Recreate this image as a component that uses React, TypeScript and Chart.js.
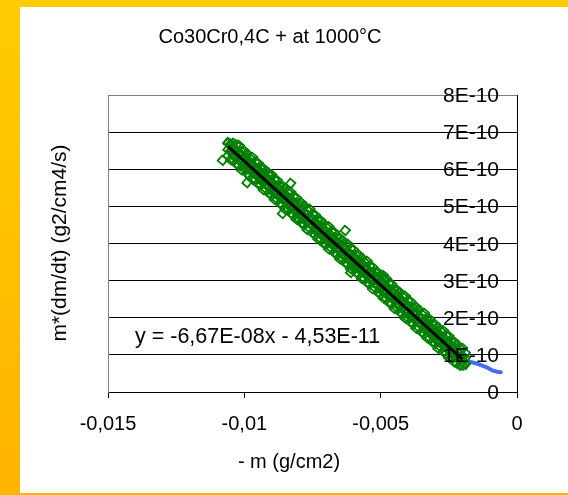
import React, { useEffect, useRef } from "react";
import { Chart, registerables } from "chart.js";

Chart.register(...registerables);

const chartTitle = "Co30Cr0,4C + at 1000°C";
const xAxisTitle = "- m (g/cm2)";
const yAxisTitle = "m*(dm/dt) (g2/cm4/s)";
const trendLabel = "y = -6,67E-08x - 4,53E-11";

const xTickValues = [-0.015, -0.01, -0.005, 0];
const xTickLabels = ["-0,015", "-0,01", "-0,005", "0"];
const yTickValues = [0, 1e-10, 2e-10, 3e-10, 4e-10, 5e-10, 6e-10, 7e-10, 8e-10];
const yTickLabels = ["0", "1E-10", "2E-10", "3E-10", "4E-10", "5E-10", "6E-10", "7E-10", "8E-10"];

// measured points (green markers): x positions, four readings per x
const greenX = [
  -0.0106, -0.0105, -0.0104, -0.0103, -0.0102, -0.0101, -0.0100, -0.0099, -0.0098, -0.0097,
  -0.0096, -0.0095, -0.0094, -0.0093, -0.0092, -0.0091, -0.0090, -0.0089, -0.0088, -0.0087,
  -0.0086, -0.0085, -0.0084, -0.0083, -0.0082, -0.0081, -0.0080, -0.0079, -0.0078, -0.0077,
  -0.0076, -0.0075, -0.0074, -0.0073, -0.0072, -0.0071, -0.0070, -0.0069, -0.0068, -0.0067,
  -0.0066, -0.0065, -0.0064, -0.0063, -0.0062, -0.0061, -0.0060, -0.0059, -0.0058, -0.0057,
  -0.0056, -0.0055, -0.0054, -0.0053, -0.0052, -0.0051, -0.0050, -0.0049, -0.0048, -0.0047,
  -0.0046, -0.0045, -0.0044, -0.0043, -0.0042, -0.0041, -0.0040, -0.0039, -0.0038, -0.0037,
  -0.0036, -0.0035, -0.0034, -0.0033, -0.0032, -0.0031, -0.0030, -0.0029, -0.0028, -0.0027,
  -0.0026, -0.0025, -0.0024, -0.0023, -0.0022, -0.0021, -0.0020, -0.0019,
];
const greenY1 = [
  6.72e-10, 6.68e-10, 6.70e-10, 6.66e-10, 6.63e-10, 6.48e-10, 6.49e-10, 6.41e-10, 6.30e-10, 6.32e-10,
  6.19e-10, 6.16e-10, 6.02e-10, 6.02e-10, 5.94e-10, 5.84e-10, 5.85e-10, 5.72e-10, 5.70e-10, 5.55e-10,
  5.55e-10, 5.48e-10, 5.37e-10, 5.38e-10, 5.26e-10, 5.23e-10, 5.08e-10, 5.09e-10, 5.01e-10, 4.90e-10,
  4.92e-10, 4.79e-10, 4.76e-10, 4.62e-10, 4.62e-10, 4.54e-10, 4.44e-10, 4.45e-10, 4.32e-10, 4.30e-10,
  4.15e-10, 4.15e-10, 4.08e-10, 3.97e-10, 3.98e-10, 3.86e-10, 3.83e-10, 3.68e-10, 3.69e-10, 3.61e-10,
  3.50e-10, 3.52e-10, 3.39e-10, 3.36e-10, 3.22e-10, 3.22e-10, 3.14e-10, 3.04e-10, 3.05e-10, 2.92e-10,
  2.90e-10, 2.75e-10, 2.75e-10, 2.68e-10, 2.57e-10, 2.58e-10, 2.46e-10, 2.43e-10, 2.28e-10, 2.29e-10,
  2.21e-10, 2.10e-10, 2.12e-10, 1.99e-10, 1.96e-10, 1.82e-10, 1.82e-10, 1.74e-10, 1.64e-10, 1.65e-10,
  1.52e-10, 1.50e-10, 1.35e-10, 1.35e-10, 1.27e-10, 1.17e-10, 1.18e-10, 1.05e-10,
];
const greenY2 = [
  6.70e-10, 6.67e-10, 6.53e-10, 6.52e-10, 6.42e-10, 6.39e-10, 6.30e-10, 6.27e-10, 6.13e-10, 6.12e-10,
  6.02e-10, 5.99e-10, 5.90e-10, 5.87e-10, 5.73e-10, 5.72e-10, 5.62e-10, 5.59e-10, 5.50e-10, 5.47e-10,
  5.33e-10, 5.32e-10, 5.22e-10, 5.19e-10, 5.10e-10, 5.07e-10, 4.93e-10, 4.92e-10, 4.82e-10, 4.79e-10,
  4.70e-10, 4.67e-10, 4.53e-10, 4.52e-10, 4.42e-10, 4.39e-10, 4.30e-10, 4.27e-10, 4.13e-10, 4.12e-10,
  4.02e-10, 3.99e-10, 3.90e-10, 3.87e-10, 3.73e-10, 3.72e-10, 3.62e-10, 3.59e-10, 3.50e-10, 3.47e-10,
  3.33e-10, 3.32e-10, 3.22e-10, 3.19e-10, 3.10e-10, 3.07e-10, 2.93e-10, 2.92e-10, 2.82e-10, 2.79e-10,
  2.70e-10, 2.67e-10, 2.53e-10, 2.52e-10, 2.42e-10, 2.39e-10, 2.30e-10, 2.27e-10, 2.13e-10, 2.12e-10,
  2.02e-10, 1.99e-10, 1.90e-10, 1.87e-10, 1.73e-10, 1.72e-10, 1.62e-10, 1.59e-10, 1.50e-10, 1.47e-10,
  1.33e-10, 1.32e-10, 1.22e-10, 1.19e-10, 1.09e-10, 1.07e-10, 0.93e-10, 0.91e-10,
];
const greenY3 = [
  6.53e-10, 6.49e-10, 6.36e-10, 6.35e-10, 6.25e-10, 6.19e-10, 6.16e-10, 6.03e-10, 6.01e-10, 5.92e-10,
  5.86e-10, 5.82e-10, 5.70e-10, 5.68e-10, 5.58e-10, 5.53e-10, 5.49e-10, 5.36e-10, 5.35e-10, 5.25e-10,
  5.19e-10, 5.16e-10, 5.03e-10, 5.01e-10, 4.92e-10, 4.86e-10, 4.82e-10, 4.70e-10, 4.68e-10, 4.58e-10,
  4.53e-10, 4.49e-10, 4.36e-10, 4.35e-10, 4.25e-10, 4.19e-10, 4.16e-10, 4.03e-10, 4.01e-10, 3.92e-10,
  3.86e-10, 3.82e-10, 3.70e-10, 3.68e-10, 3.58e-10, 3.53e-10, 3.49e-10, 3.36e-10, 3.35e-10, 3.25e-10,
  3.19e-10, 3.16e-10, 3.03e-10, 3.01e-10, 2.92e-10, 2.86e-10, 2.82e-10, 2.70e-10, 2.68e-10, 2.58e-10,
  2.53e-10, 2.49e-10, 2.36e-10, 2.35e-10, 2.25e-10, 2.19e-10, 2.16e-10, 2.03e-10, 2.01e-10, 1.92e-10,
  1.86e-10, 1.82e-10, 1.70e-10, 1.68e-10, 1.58e-10, 1.53e-10, 1.49e-10, 1.36e-10, 1.35e-10, 1.25e-10,
  1.19e-10, 1.16e-10, 1.03e-10, 1.01e-10, 0.91e-10, 0.86e-10, 0.82e-10, 0.76e-10,
];
const greenY4 = [
  6.37e-10, 6.26e-10, 6.26e-10, 6.15e-10, 6.11e-10, 5.98e-10, 6.01e-10, 5.89e-10, 5.83e-10, 5.73e-10,
  5.73e-10, 5.61e-10, 5.58e-10, 5.45e-10, 5.47e-10, 5.36e-10, 5.30e-10, 5.19e-10, 5.20e-10, 5.08e-10,
  5.04e-10, 4.92e-10, 4.94e-10, 4.82e-10, 4.77e-10, 4.66e-10, 4.66e-10, 4.55e-10, 4.51e-10, 4.38e-10,
  4.41e-10, 4.29e-10, 4.23e-10, 4.13e-10, 4.13e-10, 4.01e-10, 3.98e-10, 3.85e-10, 3.87e-10, 3.76e-10,
  3.70e-10, 3.59e-10, 3.60e-10, 3.48e-10, 3.44e-10, 3.32e-10, 3.34e-10, 3.22e-10, 3.17e-10, 3.06e-10,
  3.06e-10, 2.95e-10, 2.91e-10, 2.78e-10, 2.81e-10, 2.69e-10, 2.63e-10, 2.53e-10, 2.53e-10, 2.41e-10,
  2.38e-10, 2.25e-10, 2.27e-10, 2.16e-10, 2.10e-10, 1.99e-10, 2.00e-10, 1.88e-10, 1.84e-10, 1.72e-10,
  1.74e-10, 1.62e-10, 1.57e-10, 1.46e-10, 1.46e-10, 1.35e-10, 1.31e-10, 1.18e-10, 1.21e-10, 1.09e-10,
  1.03e-10, 0.93e-10, 0.93e-10, 0.81e-10, 0.77e-10, 0.72e-10, 0.72e-10, 0.74e-10,
];
// isolated readings off the main band
const greenOutX = [-0.0108, -0.0102, -0.0099, -0.0091, -0.0086, -0.0083, -0.0080, -0.0063, -0.0061, -0.0049];
const greenOutY = [6.24e-10, 6.64e-10, 5.64e-10, 5.89e-10, 4.81e-10, 5.62e-10, 4.67e-10, 4.35e-10, 3.22e-10, 3.14e-10];

// raw curve (blue dots)
const blueX = [
  -0.0105, -0.0102, -0.0099, -0.0096, -0.0091, -0.0088, -0.0084, -0.0080, -0.0076, -0.0072,
  -0.0068, -0.0064, -0.0060, -0.0055, -0.0050, -0.0045, -0.0040, -0.0035, -0.0030, -0.0025,
  -0.0021,
  -0.00190, -0.00185, -0.00180, -0.00175, -0.00170, -0.00165, -0.00160, -0.00155, -0.00150, -0.00145,
  -0.00140, -0.00135, -0.00130, -0.00125, -0.00120, -0.00115, -0.00110, -0.00105, -0.00100, -0.00095,
  -0.00090, -0.00085, -0.00080, -0.00075, -0.00070, -0.00065, -0.00060,
];
const blueY = [
  6.58e-10, 6.32e-10, 6.10e-10, 5.92e-10, 5.60e-10, 5.35e-10, 5.28e-10, 4.95e-10, 4.62e-10, 4.30e-10,
  4.02e-10, 3.72e-10, 3.55e-10, 3.20e-10, 2.88e-10, 2.52e-10, 2.22e-10, 1.85e-10, 1.55e-10, 1.20e-10,
  0.95e-10,
  0.86e-10, 0.84e-10, 0.83e-10, 0.82e-10, 0.81e-10, 0.80e-10, 0.79e-10, 0.78e-10, 0.77e-10, 0.76e-10,
  0.75e-10, 0.73e-10, 0.72e-10, 0.70e-10, 0.69e-10, 0.68e-10, 0.66e-10, 0.64e-10, 0.62e-10, 0.60e-10,
  0.58e-10, 0.57e-10, 0.56e-10, 0.55e-10, 0.54e-10, 0.53e-10, 0.53e-10,
];

// linear trend line end points (y = -6,67E-08x - 4,53E-11)
const trendX = [-0.0106, -0.002];
const trendY = [6.617e-10, 0.881e-10];

const FONT = '"Liberation Sans", Arial, sans-serif';

export default function App() {
  const ref = useRef<HTMLCanvasElement>(null);

  useEffect(() => {
    if (!ref.current) return;
    const textPlugin = {
      id: "texts",
      afterDraw(chart: any) {
        const ctx = chart.ctx as CanvasRenderingContext2D;
        const xs = chart.scales.x;
        const ys = chart.scales.y;
        ctx.save();
        ctx.fillStyle = "#000";
        ctx.textBaseline = "alphabetic";

        ctx.font = `20px ${FONT}`;
        ctx.textAlign = "center";
        ctx.fillText(chartTitle, 270, 43);

        ctx.fillText(xAxisTitle, 289, 468);

        xTickValues.forEach((v, i) => {
          ctx.fillText(xTickLabels[i], xs.getPixelForValue(v), 430);
        });

        ctx.textAlign = "right";
        ctx.font = `21px ${FONT}`;
        yTickValues.forEach((v, i) => {
          ctx.fillText(yTickLabels[i], 499, ys.getPixelForValue(v) + 7);
        });

        ctx.textAlign = "left";
        ctx.font = `21.5px ${FONT}`;
        ctx.fillText(trendLabel, 135, 343);

        ctx.save();
        ctx.translate(66, 243);
        ctx.rotate(-Math.PI / 2);
        ctx.textAlign = "center";
        ctx.font = `21px ${FONT}`;
        ctx.fillText(yAxisTitle, 0, 0);
        ctx.restore();

        ctx.restore();
      },
    };

    const greenPoints: { x: number; y: number }[] = [];
    [greenY1, greenY2, greenY3, greenY4].forEach((ys) => {
      greenX.forEach((x, i) => greenPoints.push({ x, y: ys[i] }));
    });
    greenOutX.forEach((x, i) => greenPoints.push({ x, y: greenOutY[i] }));

    const chart = new Chart(ref.current, {
      type: "scatter",
      data: {
        datasets: [
          {
            label: "trend",
            data: trendX.map((x, i) => ({ x, y: trendY[i] })),
            showLine: true,
            borderColor: "#000",
            borderWidth: 3,
            pointRadius: 0,
            order: 0,
          },
          {
            label: "measured",
            data: greenPoints,
            borderColor: "#008000",
            backgroundColor: "rgba(0,0,0,0)",
            pointStyle: "rect",
            rotation: 40,
            pointRadius: 4.8,
            pointBorderWidth: 1.8,
            order: 1,
          },
          {
            label: "raw",
            data: blueX.map((x, i) => ({ x, y: blueY[i] })),
            borderColor: "#3f6ff0",
            backgroundColor: "#3f6ff0",
            pointRadius: 2,
            pointBorderWidth: 0,
            order: 2,
          },
        ],
      } as any,
      options: {
        responsive: false,
        animation: false,
        events: [],
        layout: { padding: { top: 95, left: 0, right: 0, bottom: 0 } },
        plugins: { legend: { display: false }, tooltip: { enabled: false }, title: { display: false } },
        scales: {
          x: {
            type: "linear",
            position: "bottom",
            min: -0.015,
            max: 0,
            afterBuildTicks: (s: any) => {
              s.ticks = xTickValues.map((v) => ({ value: v }));
            },
            afterFit: (s: any) => {
              s.height = 103;
            },
            ticks: { display: false },
            grid: { display: true, drawOnChartArea: false, drawTicks: true, tickLength: 6, color: "#000", lineWidth: 1 },
            border: { display: true, color: "#000", width: 1 },
          },
          y: {
            type: "linear",
            position: "right",
            min: 0,
            max: 8e-10,
            afterBuildTicks: (s: any) => {
              s.ticks = yTickValues.map((v) => ({ value: v }));
            },
            afterFit: (s: any) => {
              s.width = 51;
            },
            ticks: { display: false },
            grid: {
              drawTicks: false,
              lineWidth: 1,
              color: (c: any) => (c.tick && c.tick.value > 7.5e-10 ? "#808080" : "#000"),
            },
            border: { display: true, color: "#000", width: 1 },
          },
          yl: {
            type: "linear",
            position: "left",
            min: 0,
            max: 8e-10,
            afterFit: (s: any) => {
              s.width = 108;
            },
            ticks: { display: false },
            grid: { display: false },
            border: { display: true, color: "#808080", width: 1 },
          },
        },
      } as any,
      plugins: [textPlugin],
    });
    return () => chart.destroy();
  }, []);

  return (
    <div
      style={{
        position: "absolute",
        left: 0,
        top: 0,
        width: 568,
        height: 495,
        background: "linear-gradient(180deg, #FFCC00 0%, #FFB400 100%)",
      }}
    >
      <div style={{ position: "absolute", left: 20, top: 7, width: 548, height: 486, background: "#fff" }} />
      <canvas ref={ref} width={568} height={495} style={{ position: "absolute", left: 0, top: 0 }} />
    </div>
  );
}
